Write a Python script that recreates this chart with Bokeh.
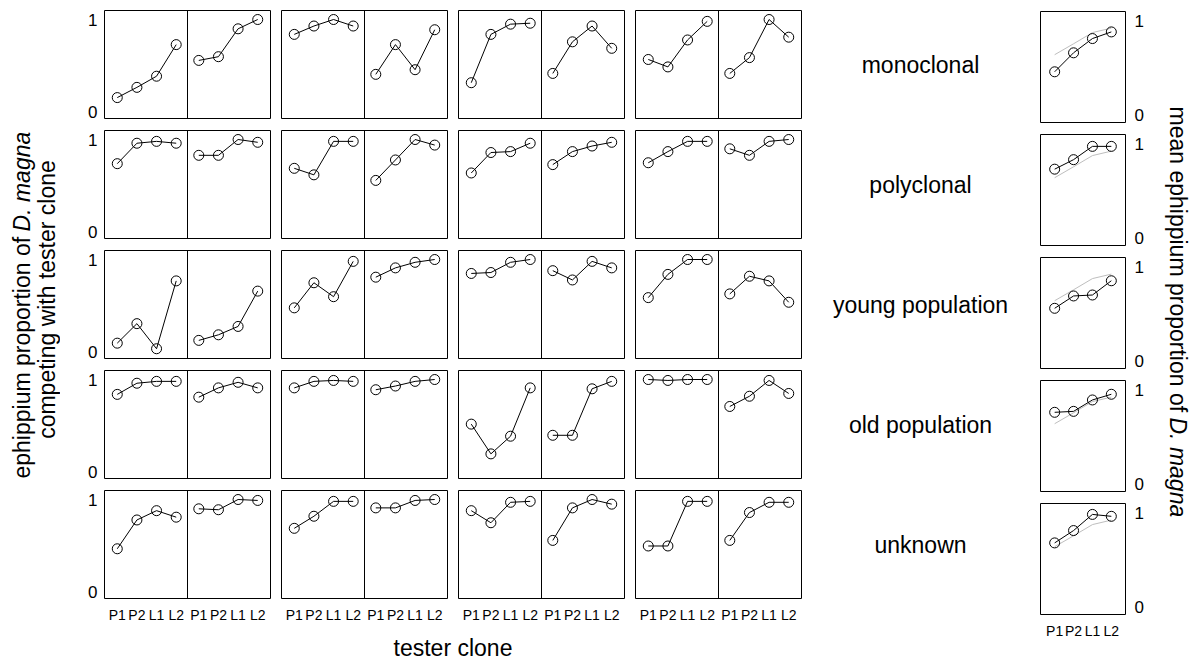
import math
from bokeh.plotting import figure
from bokeh.models import FactorRange, Range1d, Span, ColumnDataSource
from bokeh.layouts import row, column
from bokeh.embed import file_html
from bokeh.resources import INLINE
from bokeh.core.properties import value

FONT = "Liberation Sans"

# ---------------- data ----------------
clones = ["P1", "P2", "L1", "L2"]
halves = ["A", "B"]
origins = ["monoclonal", "polyclonal", "young population", "old population", "unknown"]

monoclonal = [
    [0.16, 0.27, 0.39, 0.73], [0.56, 0.60, 0.90, 1.00],
    [0.84, 0.93, 1.00, 0.93], [0.41, 0.73, 0.46, 0.89],
    [0.32, 0.84, 0.95, 0.96], [0.42, 0.76, 0.93, 0.69],
    [0.57, 0.49, 0.78, 0.98], [0.42, 0.59, 1.00, 0.81],
]
polyclonal = [
    [0.74, 0.96, 0.98, 0.96], [0.83, 0.83, 1.00, 0.97],
    [0.69, 0.62, 0.98, 0.98], [0.56, 0.78, 1.00, 0.94],
    [0.64, 0.86, 0.87, 0.96], [0.73, 0.87, 0.93, 0.97],
    [0.75, 0.87, 0.98, 0.98], [0.90, 0.83, 0.98, 1.00],
]
young_population = [
    [0.10, 0.31, 0.04, 0.77], [0.13, 0.19, 0.28, 0.66],
    [0.48, 0.75, 0.60, 0.98], [0.81, 0.91, 0.97, 1.00],
    [0.85, 0.86, 0.97, 1.00], [0.88, 0.78, 0.98, 0.91],
    [0.59, 0.84, 1.00, 1.00], [0.63, 0.82, 0.77, 0.54],
]
old_population = [
    [0.84, 0.96, 0.98, 0.98], [0.81, 0.91, 0.97, 0.91],
    [0.91, 0.98, 0.99, 0.98], [0.89, 0.93, 0.98, 1.00],
    [0.52, 0.20, 0.39, 0.91], [0.40, 0.40, 0.90, 0.98],
    [1.00, 0.99, 1.00, 1.00], [0.71, 0.82, 0.99, 0.85],
]
unknown = [
    [0.47, 0.78, 0.88, 0.81], [0.90, 0.89, 1.00, 0.99],
    [0.69, 0.82, 0.98, 0.98], [0.91, 0.91, 0.99, 1.00],
    [0.88, 0.75, 0.97, 0.98], [0.56, 0.91, 1.00, 0.95],
    [0.50, 0.50, 0.98, 0.98], [0.56, 0.86, 0.97, 0.97],
]

mean_monoclonal = [0.46, 0.66, 0.81, 0.88]
mean_polyclonal = [0.73, 0.83, 0.97, 0.97]
mean_young_population = [0.56, 0.69, 0.70, 0.85]
mean_old_population = [0.76, 0.77, 0.89, 0.95]
mean_unknown = [0.68, 0.81, 0.98, 0.96]
overall_mean = [0.64, 0.755, 0.873, 0.92]

row_values = [monoclonal, polyclonal, young_population, old_population, unknown]
row_means = [mean_monoclonal, mean_polyclonal, mean_young_population,
             mean_old_population, mean_unknown]

# ---------------- helpers ----------------
def make_fig(width, height, left, right, top, bottom, x_range, y_range,
             xaxis=None, yaxis=None, outline=True):
    p = figure(width=width, height=height, x_range=x_range, y_range=y_range,
               output_backend="svg", toolbar_location=None, title=None,
               x_axis_location=xaxis, y_axis_location=yaxis,
               min_border_left=left, min_border_right=right,
               min_border_top=top, min_border_bottom=bottom)
    p.xgrid.visible = False
    p.ygrid.visible = False
    p.background_fill_color = "white"
    p.border_fill_color = "white"
    if outline:
        p.outline_line_color = "black"
        p.outline_line_alpha = 1
        p.outline_line_width = 1
    else:
        p.outline_line_color = None
    return p


def style_axis(axes, standoff, size):
    axes.axis_line_color = None
    axes.major_tick_line_color = None
    axes.minor_tick_line_color = None
    axes.major_tick_out = 0
    axes.major_tick_in = 0
    axes.major_label_standoff = standoff
    axes.major_label_text_font = FONT
    axes.major_label_text_font_size = size
    axes.major_label_text_color = "black"


def draw_series(p, xs, ys):
    src = ColumnDataSource(dict(x=xs, y=ys))
    p.line("x", "y", source=src, line_color="black", line_width=1)
    p.scatter("x", "y", source=src, marker="circle", size=10,
              fill_color=None, line_color="black", line_width=1)


def add_text(p, x, y, txt, angle=0.0, align="center", baseline="middle", style="normal"):
    p.text(x=[x], y=[y], text=[txt], angle=angle, text_align=align,
           text_baseline=baseline, text_font=value(FONT), text_font_size="23px",
           text_font_style=style, text_color="black")


# ---------------- panel grid ----------------
pair_factors = [(h, c) for h in halves for c in clones]
y_left = Range1d(-0.065, 1.097)

grid_rows = []
for r, vals in enumerate(row_values):
    top = 10 if r == 0 else 6
    bottom = 36 if r == 4 else 6
    height = top + 108 + bottom
    figs = []
    for g in range(4):
        left = 44 if g == 0 else 6
        width = left + 166 + 5
        xr = FactorRange(*pair_factors, group_padding=0.15,
                         range_padding=0.15, range_padding_units="absolute")
        p = make_fig(width, height, left, 5, top, bottom, xr, y_left,
                     xaxis="below" if r == 4 else None,
                     yaxis="left" if g == 0 else None)
        p.add_layout(Span(location=4.075, dimension="height",
                          line_color="black", line_width=1))
        for h_i, h in enumerate(halves):
            ys = vals[2 * g + h_i]
            draw_series(p, [(h, c) for c in clones], ys)
        if g == 0:
            p.yaxis.ticker = [0, 1]
            style_axis(p.yaxis, 7, "17px")
        if r == 4:
            style_axis(p.xaxis, 8, "14px")
            p.xaxis.group_text_color = None
            p.xaxis.group_text_font_size = "1px"
            p.xaxis.separator_line_color = None
        figs.append(p)
    grid_rows.append(row(figs, spacing=0))

# x axis title
xlab = make_fig(746, 27, 44, 5, 0, 0, Range1d(0, 1), Range1d(0, 27), outline=False)
add_text(xlab, 0.5, 14, "tester clone", baseline="alphabetic")
grid_col = column(grid_rows + [xlab], spacing=0)

# ---------------- left title ----------------
lt = make_fig(60, 661, 0, 0, 0, 0, Range1d(0, 60), Range1d(0, 661), outline=False)
add_text(lt, 21, 661 - 256, "ephippium proportion of", angle=math.pi / 2, align="right")
add_text(lt, 21, 661 - 250, "D. magna", angle=math.pi / 2, align="left", style="italic")
add_text(lt, 46, 661 - 325, "competing with tester clone", angle=math.pi / 2)

# ---------------- row labels ----------------
lab = make_fig(228, 661, 0, 0, 4, 57, Range1d(0, 1),
               FactorRange(*reversed(origins)), outline=False)
lab.text(x=[0.5] * len(origins), y=origins, text=origins, text_align="center",
         text_baseline="middle", text_font=value(FONT), text_font_size="23px",
         text_color="black")

# ---------------- mean column ----------------
y_mean = Range1d(-0.074, 1.095)
mean_figs = []
for r, mvals in enumerate(row_means):
    top = 11 if r == 0 else 6
    bottom = 47 if r == 4 else 6
    height = top + 111 + bottom
    xr = FactorRange(*clones, range_padding=0.25, range_padding_units="absolute")
    p = make_fig(126, height, 6, 35, top, bottom, xr, y_mean,
                 xaxis="below" if r == 4 else None, yaxis="right")
    p.line(x=clones, y=overall_mean, line_color="#BEBEBE", line_width=1)
    draw_series(p, clones, mvals)
    p.yaxis.ticker = [0, 1]
    style_axis(p.yaxis, 9, "17px")
    if r == 4:
        style_axis(p.xaxis, 8, "14px")
    mean_figs.append(p)
mean_col = column(mean_figs, spacing=0)

# ---------------- right title ----------------
rt = make_fig(32, 661, 0, 0, 0, 0, Range1d(0, 32), Range1d(0, 661), outline=False)
add_text(rt, 17, 661 - 449, "mean ephippium proportion of", angle=-math.pi / 2, align="right")
add_text(rt, 17, 661 - 455, "D. magna", angle=-math.pi / 2, align="left", style="italic")

layout = row([lt, grid_col, lab, mean_col, rt], spacing=0)

with open("out.html", "w") as f:
    f.write(file_html(layout, INLINE))
